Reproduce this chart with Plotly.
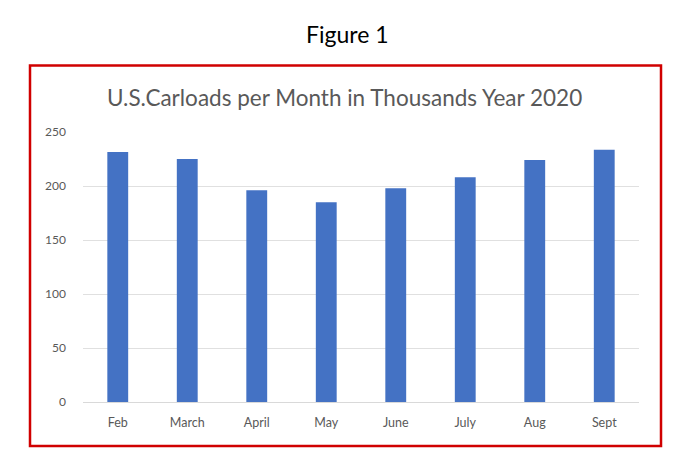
import plotly.graph_objects as go

# data (thousands of carloads)
months = ["Feb", "March", "April", "May", "June", "July", "Aug", "Sept"]
carloads = [231.5, 225, 196, 185, 198, 208, 224, 233.5]
y_ticks = [0, 50, 100, 150, 200, 250]

# page body has an 8px margin, so work in shifted pixel coords
off = 8
W, H = 676 - off, 457 - off
left, right, top, bottom = 83 - off, 639 - off, 131.5 - off, 402 - off
plot_w = right - left
plot_h = bottom - top

fig = go.Figure()
fig.add_trace(go.Bar(
    x=months, y=carloads,
    marker=dict(color="#4472c4", line=dict(width=0)),
    hoverinfo="x+y",
))

# red frame around the chart (paper coords relative to plot area)
bx0, bx1, by0, by1 = 30 - off, 661 - off, 65 - off, 446 - off
fig.add_shape(
    type="rect", xref="paper", yref="paper",
    x0=(bx0 - left) / plot_w, x1=(bx1 - left) / plot_w,
    y0=(bottom - by1) / plot_h, y1=(bottom - by0) / plot_h,
    line=dict(color="#d00000", width=2.5),
)

font_family = "Lato, 'Open Sans', sans-serif"

fig.add_annotation(
    text="Figure 1", xref="paper", yref="paper",
    x=(347 - off - left) / plot_w, y=(bottom - (33 - off)) / plot_h,
    xanchor="center", yanchor="middle",
    showarrow=False, font=dict(size=23, color="#000000", family=font_family),
)
fig.add_annotation(
    text="U.S.Carloads per Month in Thousands Year 2020", xref="paper", yref="paper",
    x=(344 - off - left) / plot_w, y=(bottom - (97 - off)) / plot_h,
    xanchor="center", yanchor="middle",
    showarrow=False, font=dict(size=22.5, color="#595959", family=font_family),
)

fig.update_layout(
    width=W, height=H,
    margin=dict(l=left, r=W - right, t=top, b=H - bottom, pad=0),
    paper_bgcolor="white", plot_bgcolor="white",
    bargap=0.7, showlegend=False,
    font=dict(family=font_family, color="#595959", size=12),
)
fig.update_xaxes(
    showgrid=False, showline=True, linecolor="#d9d9d9", linewidth=1,
    ticks="", ticklabelstandoff=9, tickfont=dict(size=12.5, color="#595959"),
)
fig.update_yaxes(
    range=[0, 250], tickvals=y_ticks, showgrid=True, gridcolor="#e0e0e0",
    zeroline=False, showline=False, ticks="", ticklabelstandoff=16,
    tickfont=dict(size=12, color="#595959"),
)

fig.write_html("out.html")
